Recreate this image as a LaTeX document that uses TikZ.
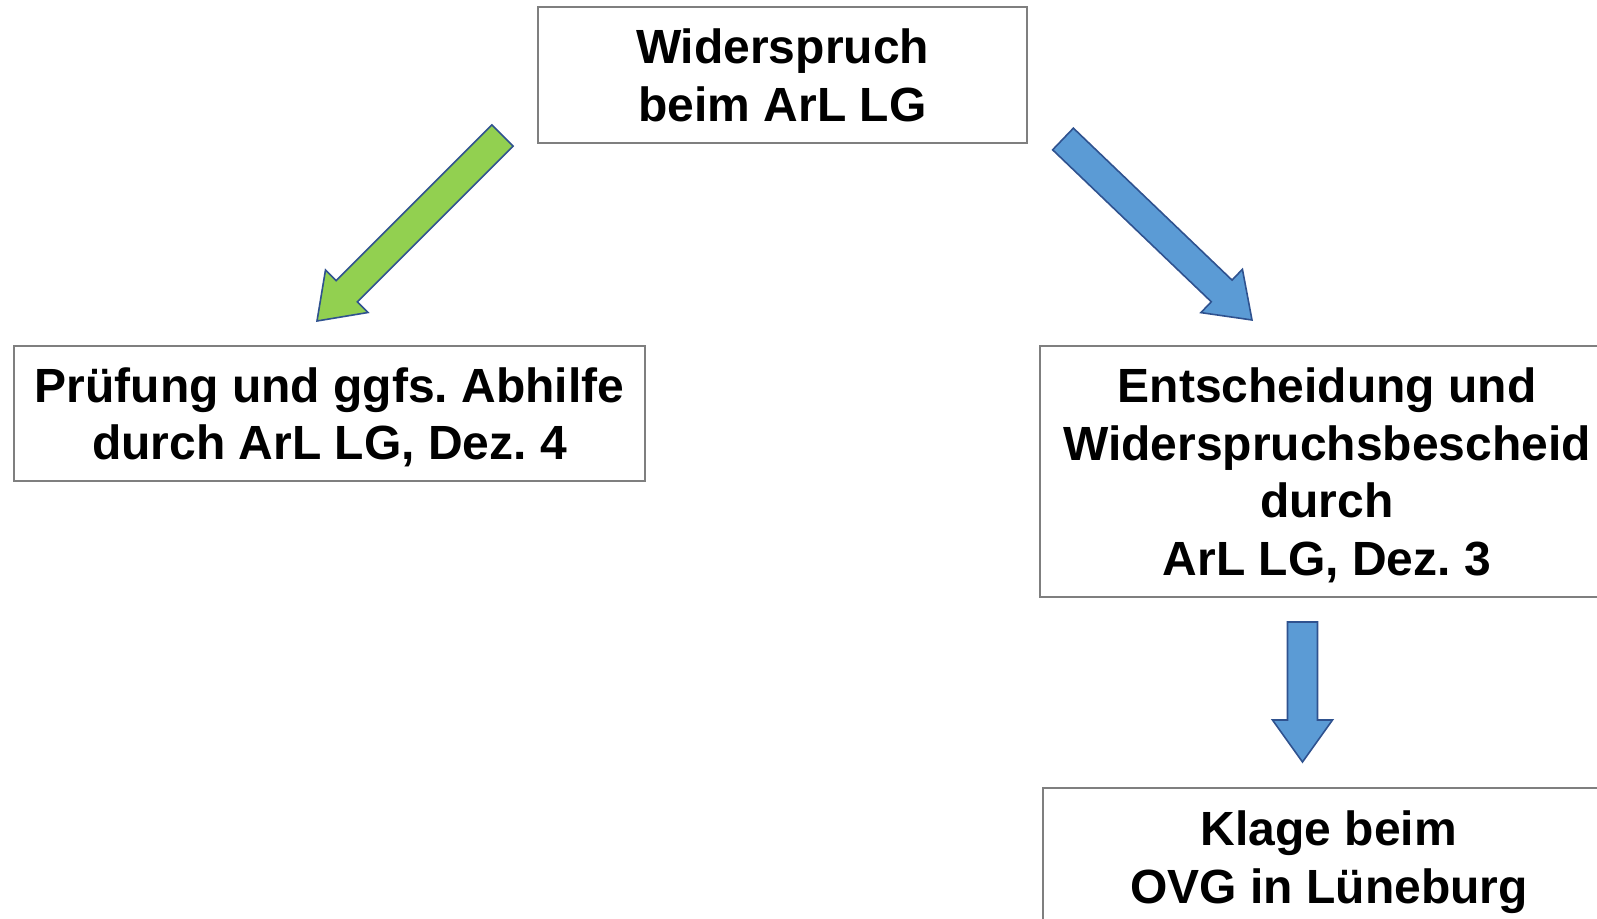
\documentclass[tikz,border=0pt]{standalone}
\usepackage{fontspec}
\setmainfont{Liberation Sans}
\usetikzlibrary{calc}
\definecolor{arrowgreen}{HTML}{92D050}
\definecolor{arrowblue}{HTML}{5B9BD5}
\definecolor{arrowline}{HTML}{2F528F}
\definecolor{boxline}{HTML}{7F7F7F}

\begin{document}
\frenchspacing
\begin{tikzpicture}[x=0.5pt,y=-0.5pt]

  \useasboundingbox (0,0) rectangle (1597,919);

  \begin{scope}[every node/.style={draw=boxline,line width=1pt,align=center,text depth=0pt,font=\bfseries\fontsize{24}{28.8}\selectfont}]
    \node[minimum width=244.5pt,minimum height=68pt]   (widerspruch) at (782.5,75)   {Widerspruch\\beim ArL LG};
    \node[minimum width=315.5pt,minimum height=67.5pt] (abhilfe)     at (329.5,413.5) {Prüfung und ggfs. Abhilfe\\durch ArL LG, Dez. 4};
    \node[minimum width=287pt,minimum height=125.5pt]  (bescheid)    at (1327,471.5)  {Entscheidung und\\Widerspruchsbescheid\\durch\\ArL LG, Dez. 3};
    \node[minimum width=286pt,minimum height=69pt]     (klage)       at (1329,857)    {Klage beim\\OVG in Lüneburg};
  \end{scope}

  \coordinate (gtail) at (502.5,135.5);
  \coordinate (gtip)  at (317,321);
  \coordinate (btail) at (1063,139);
  \coordinate (btip)  at (1252,320);
  \coordinate (dtail) at (1302.5,622);
  \coordinate (dtip)  at (1302.5,762);

  \foreach \atail/\atip/\acol in {gtail/gtip/arrowgreen,btail/btip/arrowblue,dtail/dtip/arrowblue} {
    \coordinate (hb) at ($(\atip)!21pt!(\atail)$);
    \filldraw[fill=\acol,draw=arrowline,line width=0.8pt,line join=miter]
      ($(\atail)!7.5pt!90:(\atip)$) -- ($(hb)!7.5pt!90:(\atip)$) -- ($(hb)!15pt!90:(\atip)$) -- (\atip)
      -- ($(hb)!15pt!-90:(\atip)$) -- ($(hb)!7.5pt!-90:(\atip)$) -- ($(\atail)!7.5pt!-90:(\atip)$) -- cycle;
  }

\end{tikzpicture}
\end{document}
